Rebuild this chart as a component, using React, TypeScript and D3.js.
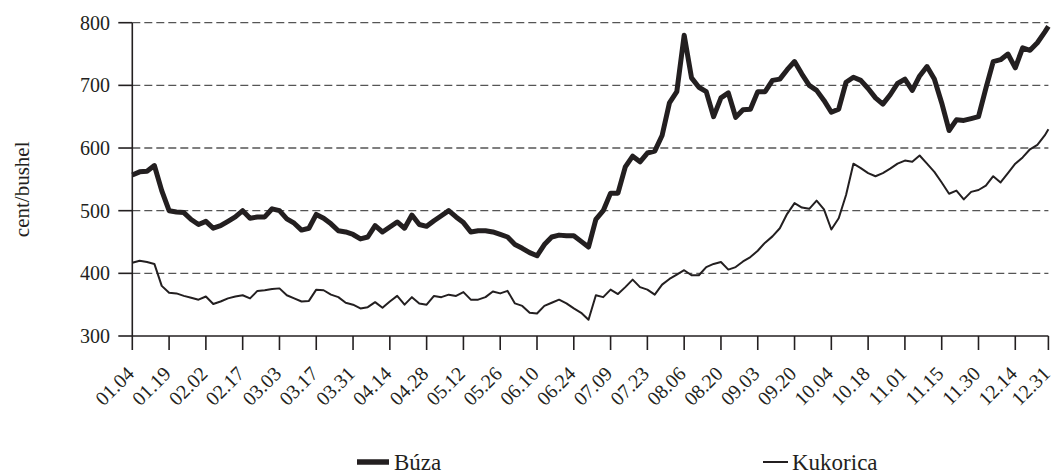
import React from 'react';
import * as d3 from 'd3';

// x-axis tick labels (dates) and their trading-day positions
const tickLabels = ['01.04', '01.19', '02.02', '02.17', '03.03', '03.17', '03.31', '04.14', '04.28', '05.12', '05.26', '06.10', '06.24', '07.09', '07.23', '08.06', '08.20', '09.03', '09.20', '10.04', '10.18', '11.01', '11.15', '11.30', '12.14', '12.31'];
const tickDays = [0, 10, 20, 30, 40, 50, 60, 70, 80, 90, 100, 110, 120, 130, 140, 150, 160, 170, 180, 190, 200, 210, 220, 230, 240, 249];
const LAST_DAY = 249;
const SAMPLE_STEP = 2; // one value every 2 trading days
const yTicks = [300, 400, 500, 600, 700, 800];

// Búza (wheat), cent/bushel
const buza = [
  557, 562, 563, 572, 532, 500, 498, 497, 486, 478,
  483, 472, 476, 483, 490, 500, 488, 490, 490, 503,
  500, 487, 480, 469, 472, 494, 488, 479, 468, 466,
  462, 455, 458, 476, 466, 474, 482, 472, 493, 478,
  475, 484, 492, 500, 490, 481, 466, 468, 468, 466,
  462, 458, 446, 440, 433, 428, 446, 458, 461, 460,
  460, 451, 442, 486, 500, 528, 528, 570, 587, 578,
  592, 595, 620, 672, 690, 780, 712, 697, 690, 650,
  680, 688, 649, 661, 662, 690, 690, 708, 710, 725,
  738, 718, 700, 692, 676, 657, 662, 705, 713, 708,
  695, 680, 670, 685, 703, 710, 692, 715, 730, 710,
  672, 628, 645, 644, 647, 650, 695, 738, 741, 750,
  728, 760, 756, 768, 785, 794,
];

// Kukorica (corn), cent/bushel
const kukorica = [
  417, 420, 418, 415, 380, 369, 368, 364, 361, 358,
  363, 351, 355, 360, 363, 365, 360, 372, 373, 375,
  376, 365, 360, 355, 356, 374, 373, 366, 362, 353,
  350, 344, 346, 354, 345, 355, 364, 350, 362, 352,
  350, 364, 362, 366, 364, 370, 358, 358, 362, 371,
  368, 372, 352, 348, 337, 336, 348, 353, 358, 352,
  344, 337, 326, 365, 362, 374, 367, 378, 390, 378,
  374, 366, 382, 391, 398, 405, 397, 397, 410, 415,
  418, 406, 410, 419, 426, 436, 449, 459, 472, 495,
  512, 505, 503, 516, 502, 470, 488, 525, 575, 568,
  560, 555, 560, 567, 575, 580, 578, 588, 575, 562,
  545, 527, 532, 518, 530, 533, 540, 555, 545, 560,
  575, 585, 598, 605, 620, 630,
];

const FONT = '"Liberation Serif", "Times New Roman", serif';
const INK = '#231f20';

export default function App() {
  const left = 132.3;
  const right = 1048.4;
  const top = 22.7;
  const bottom = 336;

  const x = d3.scaleLinear().domain([0, LAST_DAY]).range([left, right]);
  const y = d3.scaleLinear().domain([300, 800]).range([bottom, top]);
  const dayOf = (i: number) => Math.min(i * SAMPLE_STEP, LAST_DAY);
  const line = d3
    .line<number>()
    .x((_, i) => x(dayOf(i)))
    .y((d) => y(d));

  return (
    <svg
      width={1056}
      height={474}
      viewBox="0 0 1056 474"
      style={{ position: 'absolute', left: 0, top: 0, display: 'block', background: '#fff' }}
    >
      {/* gridlines */}
      {yTicks.filter((t) => t > 300).map((t) => (
        <line
          key={'g' + t}
          x1={left}
          x2={right}
          y1={y(t)}
          y2={y(t)}
          stroke="#555"
          strokeWidth={1.3}
          strokeDasharray="8,4"
        />
      ))}
      {/* y axis */}
      <line x1={left} x2={left} y1={top} y2={bottom} stroke={INK} strokeWidth={1.6} />
      {yTicks.map((t) => (
        <g key={'y' + t}>
          <line x1={left - 14} x2={left} y1={y(t)} y2={y(t)} stroke={INK} strokeWidth={1.6} />
          <text
            x={110}
            y={y(t)}
            dy="0.35em"
            textAnchor="end"
            fontFamily={FONT}
            fontSize={20}
            fill={INK}
          >
            {t}
          </text>
        </g>
      ))}
      {/* x axis */}
      <line x1={left} x2={right} y1={bottom} y2={bottom} stroke={INK} strokeWidth={1.6} />
      {tickDays.map((d, k) => (
        <g key={'x' + d}>
          <line x1={x(d)} x2={x(d)} y1={bottom} y2={bottom + 14} stroke={INK} strokeWidth={1.6} />
          <text
            transform={`translate(${x(d) + 3},${bottom + 39}) rotate(-45)`}
            textAnchor="end"
            fontFamily={FONT}
            fontSize={20}
            fill={INK}
          >
            {tickLabels[k]}
          </text>
        </g>
      ))}
      {/* y label */}
      <text
        transform={`translate(29,${(top + bottom) / 2 + 10}) rotate(-90)`}
        textAnchor="middle"
        fontFamily={FONT}
        fontSize={21}
        fill={INK}
      >
        cent/bushel
      </text>
      {/* series */}
      <path d={line(kukorica) || ''} fill="none" stroke={INK} strokeWidth={2} strokeLinejoin="round" />
      <path d={line(buza) || ''} fill="none" stroke={INK} strokeWidth={5} strokeLinejoin="round" />
      {/* legend */}
      <line x1={357} x2={389} y1={462} y2={462} stroke={INK} strokeWidth={5.5} />
      <text x={394} y={462} dy="0.35em" fontFamily={FONT} fontSize={23} fill={INK}>
        Búza
      </text>
      <line x1={763} x2={788} y1={462} y2={462} stroke={INK} strokeWidth={2} />
      <text x={792} y={462} dy="0.35em" fontFamily={FONT} fontSize={23} fill={INK}>
        Kukorica
      </text>
    </svg>
  );
}
